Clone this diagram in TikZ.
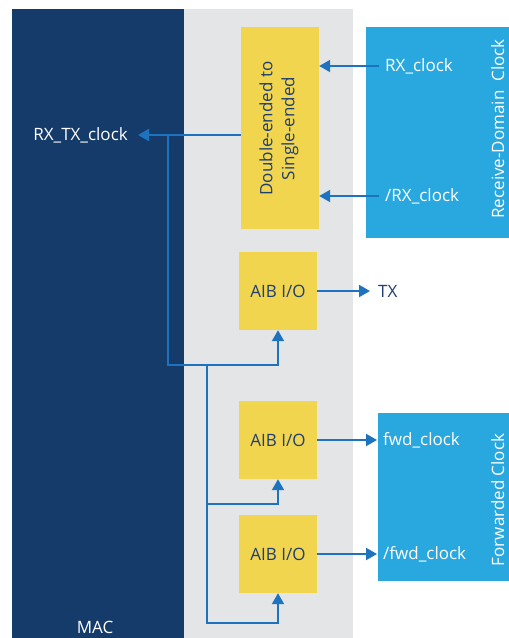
\documentclass[tikz,border=0pt]{standalone}
\usepackage{fontspec}
\setmainfont{Open Sans}
\usetikzlibrary{arrows.meta}

\definecolor{macnavy}{RGB}{21,59,107}
\definecolor{diegray}{RGB}{228,229,231}
\definecolor{aibyellow}{RGB}{242,213,78}
\definecolor{clkblue}{RGB}{41,168,224}
\definecolor{wireblue}{RGB}{30,115,190}
\definecolor{textnavy}{RGB}{30,62,112}

\begin{document}
\begin{tikzpicture}[x=1pt, y=-1pt,
    block/.style={fill=aibyellow, minimum width=78pt, minimum height=78pt,
      inner sep=0pt, text=textnavy, font=\fontsize{17}{22}\selectfont},
    clkbox/.style={fill=clkblue, inner sep=0pt},
    lbl/.style={inner xsep=6pt, inner ysep=0pt, font=\fontsize{17}{22}\selectfont},
    sig/.style={draw=wireblue, line width=2pt, -{Triangle[length=11pt,width=12pt]}},
  ]
  \useasboundingbox (0,0) rectangle (509,638);

  %% Regions
  \fill[macnavy] (12,9) rectangle (184,638);
  \fill[diegray] (184,9) rectangle (353,638);
  \node[white, lbl] (mac) at (95,627) {MAC};

  %% Clock sources
  \node[clkbox, minimum width=144pt, minimum height=211pt] (rxdom) at (438,132.5) {};
  \node[white, lbl, rotate=90, anchor=base] (rxdomtxt) at (504,129) {Receive-Domain\ \ Clock};
  \node[clkbox, minimum width=132pt, minimum height=168pt] (fwddom) at (444,497) {};
  \node[white, lbl, rotate=90, anchor=base] (fwddomtxt) at (504,500) {Forwarded Clock};

  %% Blocks
  \node[block, minimum height=202pt] (conv) at (280,128) {};
  \node[text=textnavy, font=\fontsize{17}{22}\selectfont, align=center, rotate=90]
    (convtxt) at (279,128.5) {Double-ended to\\Single-ended};
  \node[block] (aib1) at (278,291) {AIB I/O};
  \node[block] (aib2) at (278,440) {AIB I/O};
  \node[block] (aib3) at (278,554) {AIB I/O};

  %% Labels
  \node[white, lbl, anchor=east, inner xsep=10pt] (rxtx) at (138,135) {RX\_TX\_clock};
  \node[white, lbl, anchor=west] (rxclk) at (379,66) {RX\_clock};
  \node[white, lbl, anchor=west] (nrxclk) at (379,196) {/RX\_clock};
  \node[textnavy, lbl, anchor=west, inner xsep=8pt] (tx) at (370,291) {TX};
  \node[white, lbl, anchor=west] (fwdclk) at (377,440) {fwd\_clock};
  \node[white, lbl, anchor=west] (nfwdclk) at (377,554) {/fwd\_clock};

  %% Receive clock into converter
  \draw[sig] (rxclk) -- (conv.east |- rxclk);
  \draw[sig] (nrxclk) -- (conv.east |- nrxclk);
  \draw[sig] (conv.west |- rxtx) -- (rxtx);

  %% Clock tree to the AIB I/Os
  \coordinate (j1) at (168,135);
  \coordinate (j2) at (207,365);
  \coordinate (j3) at (207,504);
  \coordinate (j4) at (207,623);
  \draw[sig] (j1) |- (j2) -| (aib1.south);
  \draw[sig] (j2) -- (j3) -| (aib2.south);
  \draw[sig] (j3) -- (j4) -| (aib3.south);

  %% Outputs
  \draw[sig] (aib1) -- (tx);
  \draw[sig] (aib2) -- (fwdclk);
  \draw[sig] (aib3) -- (nfwdclk);

\end{tikzpicture}
\end{document}
